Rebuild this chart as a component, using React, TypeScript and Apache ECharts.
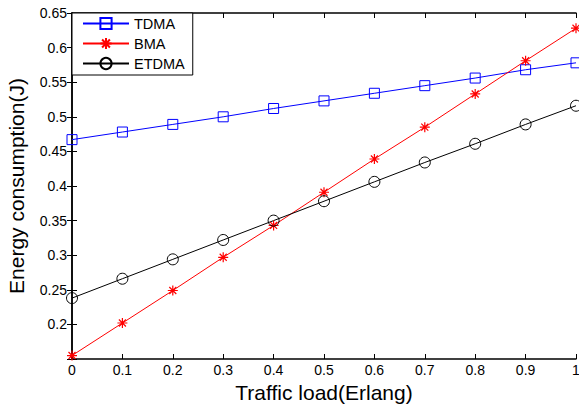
import React, { useEffect, useRef } from "react";
import * as echarts from "echarts";

const trafficLoad = [0, 0.1, 0.2, 0.3, 0.4, 0.5, 0.6, 0.7, 0.8, 0.9, 1];
const tdma = [0.467, 0.478, 0.489, 0.5, 0.512, 0.523, 0.534, 0.545, 0.556, 0.568, 0.578];
const bma = [0.155, 0.202, 0.249, 0.297, 0.343, 0.391, 0.439, 0.485, 0.533, 0.581, 0.628];
const etdma = [0.238, 0.266, 0.294, 0.322, 0.35, 0.378, 0.406, 0.434, 0.461, 0.489, 0.516];

const FONT = "'Liberation Sans', Arial, sans-serif";
const ASTERISK = "path://M5,0L5,10M0,5L10,5M1.5,1.5L8.5,8.5M1.5,8.5L8.5,1.5";

const pair = (ys: number[]) => trafficLoad.map((x, i) => [x, ys[i]]);

export default function App() {
  const ref = useRef<HTMLDivElement>(null);
  useEffect(() => {
    if (!ref.current) return;
    const chart = echarts.init(ref.current, undefined, { renderer: "svg" });
    const axisLine = { show: true, lineStyle: { color: "#000", width: 1.5 } };
    const tick = { show: true, inside: true, length: 5, lineStyle: { color: "#000", width: 1 } };
    chart.setOption({
      animation: false,
      backgroundColor: "#fff",
      textStyle: { fontFamily: FONT },
      grid: { left: 72, right: 3, top: 13, bottom: 45, outerBoundsMode: "none", containLabel: false },
      legend: {
        left: 72,
        top: 13,
        orient: "vertical",
        backgroundColor: "#fff",
        borderColor: "#000",
        borderWidth: 1,
        borderRadius: 0,
        padding: [3, 8, 4, 10],
        itemGap: 5,
        itemWidth: 46,
        itemHeight: 14,
        textStyle: { fontFamily: FONT, fontSize: 14.5, color: "#000" },
        data: ["TDMA", "BMA", "ETDMA"],
      },
      xAxis: [
        {
          type: "value",
          min: 0,
          max: 1,
          interval: 0.1,
          name: "Traffic load(Erlang)",
          nameLocation: "middle",
          nameGap: 17,
          nameTextStyle: { fontFamily: FONT, fontSize: 21, color: "#000" },
          axisLine,
          axisTick: tick,
          axisLabel: { fontFamily: FONT, fontSize: 14, color: "#000", margin: 4 },
          splitLine: { show: false },
        },
        {
          type: "value",
          position: "top",
          min: 0,
          max: 1,
          interval: 0.1,
          axisLine,
          axisTick: tick,
          axisLabel: { show: false },
          splitLine: { show: false },
        },
      ],
      yAxis: [
        {
          type: "value",
          min: 0.15,
          max: 0.65,
          interval: 0.05,
          name: "Energy consumption(J)",
          nameLocation: "middle",
          nameGap: 45,
          nameTextStyle: { fontFamily: FONT, fontSize: 21, color: "#000" },
          axisLine,
          axisTick: tick,
          axisLabel: {
            fontFamily: FONT,
            fontSize: 14,
            color: "#000",
            margin: 5,
            formatter: (v: number) => (Math.abs(v - 0.15) < 1e-6 ? "" : String(+v.toFixed(2))),
          },
          splitLine: { show: false },
        },
        {
          type: "value",
          position: "right",
          min: 0.15,
          max: 0.65,
          interval: 0.05,
          axisLine,
          axisTick: tick,
          axisLabel: { show: false },
          splitLine: { show: false },
        },
      ],
      series: [
        {
          name: "TDMA",
          type: "line",
          data: pair(tdma),
          color: "#0000ff",
          lineStyle: { color: "#0000ff", width: 1 },
          symbol: "rect",
          symbolSize: 10,
          itemStyle: { color: "transparent", borderColor: "#0000ff", borderWidth: 1 },
          z: 3,
        },
        {
          name: "BMA",
          type: "line",
          data: pair(bma),
          color: "#ff0000",
          lineStyle: { color: "#ff0000", width: 1 },
          symbol: ASTERISK,
          symbolSize: 10,
          itemStyle: { color: "transparent", borderColor: "#ff0000", borderWidth: 1.2 },
          z: 3,
        },
        {
          name: "ETDMA",
          type: "line",
          data: pair(etdma),
          color: "#000000",
          lineStyle: { color: "#000", width: 1 },
          symbol: "circle",
          symbolSize: 11,
          itemStyle: { color: "transparent", borderColor: "#000", borderWidth: 1 },
          z: 3,
        },
      ],
    });
    return () => chart.dispose();
  }, []);
  return (
    <div
      ref={ref}
      style={{ position: "absolute", left: 0, top: 0, width: 579, height: 404 }}
    />
  );
}
